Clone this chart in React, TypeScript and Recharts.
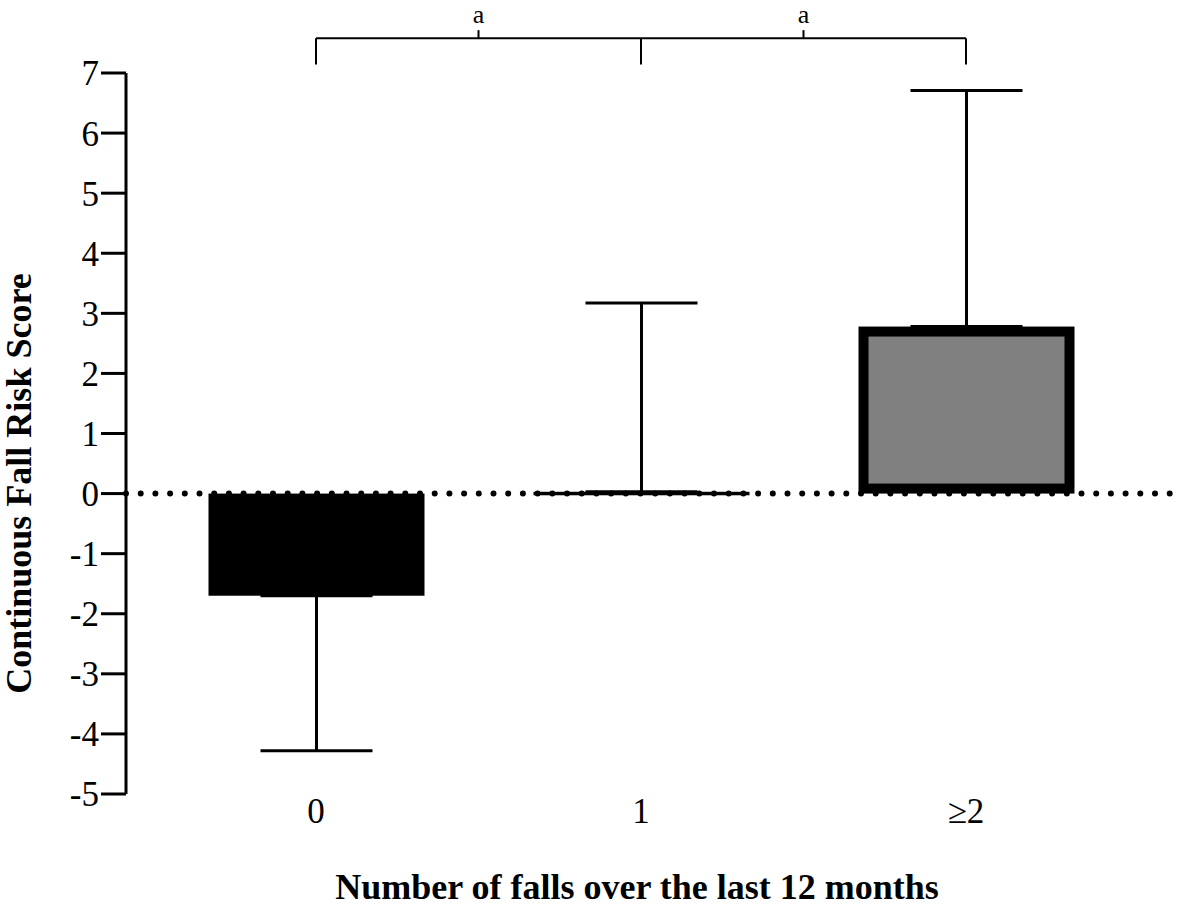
import React from 'react';
import { BarChart, Bar, XAxis, YAxis, ErrorBar, ReferenceLine } from 'recharts';

// ---- data ----
const categories = ['0', '1', '≥2'];
const means = [-1.7, 0.03, 2.78];
const errLower = [2.58, 0, 0];
const errUpper = [0, 3.14, 3.93];
const yTicks = [-5, -4, -3, -2, -1, 0, 1, 2, 3, 4, 5, 6, 7];
const bracketLevel = 7.58;
const bracketLegEnd = 7.14;
const comparisons = [
  { from: '0', to: '1', label: 'a' },
  { from: '1', to: '≥2', label: 'a' },
];
const barFills = ['#000000', '#ffffff', '#808080'];
const barStrokeWidths = [0, 3, 10];
const xTitle = 'Number of falls over the last 12 months';
const yTitle = 'Continuous Fall Risk Score';

const data = categories.map((c, i) => ({ name: c, value: means[i], err: [errLower[i], errUpper[i]] }));

const FONT = '"Liberation Serif", "Times New Roman", serif';
const PAD_L = 27.5;
const PAD_R = 52.5;

const BarShape = (props: any) => {
  const { x, y, width, height, index } = props;
  const top = Math.min(y, y + height);
  const h = Math.abs(height);
  const sw = barStrokeWidths[index] || 0;
  const fill = barFills[index];
  if (!sw) return <rect x={x} y={top} width={width} height={h} fill={fill} />;
  return (
    <rect
      x={x + sw / 2}
      y={top + sw / 2}
      width={width - sw}
      height={Math.max(h - sw, 0.5)}
      fill={fill}
      stroke="#000"
      strokeWidth={sw}
    />
  );
};

const XLabel = (props: any) => {
  const vb = props.viewBox || {};
  const cx = vb.x + PAD_L + (vb.width - PAD_L - PAD_R) / 2 - 4;
  return (
    <text x={cx} y={vb.y + 105} textAnchor="middle" fontFamily={FONT} fontSize={36} fontWeight="bold" fill="#000">
      {xTitle}
    </text>
  );
};

const YLabel = (props: any) => {
  const vb = props.viewBox || {};
  const x = vb.x + 31;
  const y = vb.y + vb.height / 2 + 50;
  return (
    <text
      x={x}
      y={y}
      transform={`rotate(-90, ${x}, ${y})`}
      textAnchor="middle"
      fontFamily={FONT}
      fontSize={36}
      fontWeight="bold"
      fill="#000"
    >
      {yTitle}
    </text>
  );
};

const makeBracketLabel = (text: string) => (props: any) => {
  const vb = props.viewBox || {};
  const cx = vb.x + vb.width / 2;
  const cy = vb.y;
  return (
    <g>
      <line x1={cx} y1={cy} x2={cx} y2={cy - 8} stroke="#000" strokeWidth={2} />
      <text x={cx} y={cy - 15} textAnchor="middle" fontFamily={FONT} fontSize={26} fill="#000">
        {text}
      </text>
    </g>
  );
};

export default function App() {
  return (
    <div style={{ position: 'absolute', left: 0, top: 0, background: '#fff' }}>
      <BarChart
        width={1181}
        height={907}
        data={data}
        margin={{ top: 73, right: 0, bottom: 0, left: 0 }}
        barSize={216}
      >
        <XAxis
          dataKey="name"
          height={113}
          axisLine={false}
          tickLine={false}
          tickSize={0}
          tickMargin={4}
          interval={0}
          padding={{ left: PAD_L, right: PAD_R }}
          tick={{ fill: '#000', fontSize: 35, fontFamily: FONT }}
          label={XLabel}
        />
        <YAxis
          width={126}
          domain={[-5, 7]}
          ticks={yTicks}
          interval={0}
          tickSize={25}
          tickMargin={2}
          axisLine={{ stroke: '#000', strokeWidth: 3 }}
          tickLine={{ stroke: '#000', strokeWidth: 3 }}
          tick={{ fill: '#000', fontSize: 35, fontFamily: FONT }}
          label={YLabel}
        />
        <Bar dataKey="value" isAnimationActive={false} shape={BarShape}>
          <ErrorBar dataKey="err" direction="y" width={56} stroke="#000" strokeWidth={3} isAnimationActive={false} />
        </Bar>
        <ReferenceLine
          y={0}
          stroke="#000"
          strokeWidth={6}
          strokeDasharray="0 14.7"
          strokeLinecap="round"
        />
        {comparisons.map((c, i) => (
          <ReferenceLine
            key={'h' + i}
            segment={[{ x: c.from, y: bracketLevel }, { x: c.to, y: bracketLevel }]}
            stroke="#000"
            strokeWidth={2}
            ifOverflow="visible"
            label={makeBracketLabel(c.label)}
          />
        ))}
        {categories.map((c, i) => (
          <ReferenceLine
            key={'v' + i}
            segment={[{ x: c, y: bracketLegEnd }, { x: c, y: bracketLevel }]}
            stroke="#000"
            strokeWidth={2}
            ifOverflow="visible"
          />
        ))}
      </BarChart>
    </div>
  );
}
